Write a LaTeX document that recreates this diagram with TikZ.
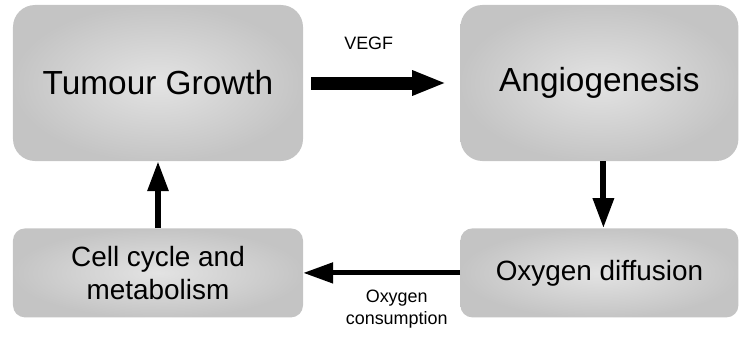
\documentclass[tikz,border=0pt]{standalone}
\usepackage{fontspec}
\setmainfont{Liberation Sans}
\usetikzlibrary{positioning,arrows.meta}

\begin{document}
\begin{tikzpicture}[x=1bp,y=1bp,
    bigbox/.style={draw=none,rounded corners=22bp,inner color=black!11,outer color=black!23,align=center,minimum height=156bp,font=\fontsize{33.5}{40}\selectfont},
    lowbox/.style={bigbox,rounded corners=12bp,minimum height=89bp,font=\fontsize{28}{33}\selectfont},
    flow/.style={line width=6bp,-{Triangle[length=30bp,width=20bp]}},
    lbl/.style={align=center,font=\fontsize{18}{22}\selectfont}]
  \useasboundingbox (0,0) rectangle (740,338);
  \node[bigbox,minimum width=290bp] (tg) at (158,255) {Tumour Growth};
  \node[bigbox,minimum width=278bp,right=157bp of tg] (ang) {Angiogenesis};
  \node[lowbox,minimum width=290bp,below=67bp of tg] (cc) {Cell cycle and\\metabolism};
  \node[lowbox,minimum width=278bp,below=67bp of ang] (od) {Oxygen diffusion};
  \draw[line width=13bp,-{Triangle[length=34bp,width=23bp]},shorten <=8bp,shorten >=14bp] (tg)--(ang) node[lbl,midway,above=24bp,xshift=-13bp]{VEGF};
  \draw[flow] ([xshift=4bp]ang.south)--([xshift=4bp]od.north);
  \draw[flow,line width=5bp] (od)--(cc) node[lbl,midway,below=11bp,xshift=15bp]{Oxygen\\consumption};
  \draw[flow] (cc)--(tg);
\end{tikzpicture}
\end{document}
